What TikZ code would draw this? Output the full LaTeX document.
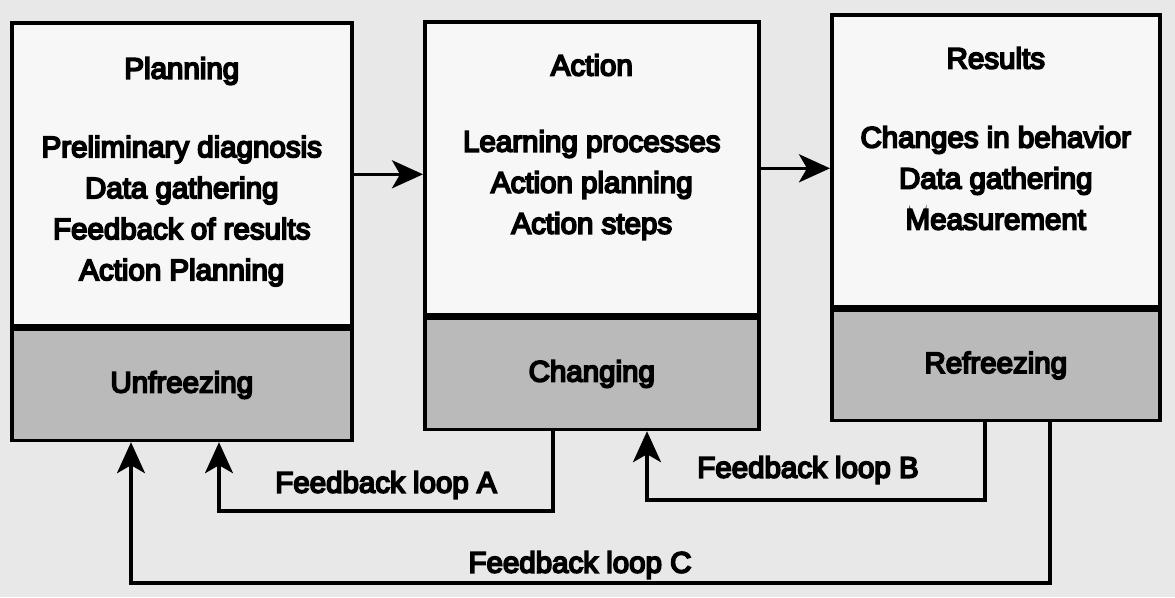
\documentclass[tikz,border=0pt]{standalone}
\usepackage{fontspec}
\setmainfont{Liberation Sans}[FakeBold=6]
\usetikzlibrary{arrows.meta,positioning}

\begin{document}
\begin{tikzpicture}[x=1pt,y=1pt,
    topbox/.style={draw,line width=3.6pt,fill=black!3,anchor=north west,inner sep=0pt},
    lowbox/.style={draw,line width=3.6pt,fill=black!27,anchor=north,inner sep=0pt},
    stage/.style={align=center},
    fbline/.style={line width=3.4pt,-{Stealth[length=31pt,width=28pt,inset=8pt]}}]

  \fill[black!9] (0,0) rectangle (1175,-597);
  \useasboundingbox (0,0) rectangle (1175,-597);

  \begin{scope}[font=\fontsize{29.5}{41}\selectfont,text=black]
    % planning / unfreezing
    \node[topbox,minimum width=340,minimum height=303] (plan) at (10,-21) {};
    \node[lowbox,minimum width=340,minimum height=111] (unfr) at (plan.south) {Unfreezing};
    \node (planT) at ([yshift=-50]plan.north) {Planning};
    \node[stage] (planL) at ([yshift=-190]plan.north) {Preliminary diagnosis\\Data gathering\\Feedback of results\\Action Planning};

    % action / changing
    \node[topbox,minimum width=334,minimum height=293] (acts) at (423,-20) {};
    \node[lowbox,minimum width=334,minimum height=111] (chng) at (acts.south) {Changing};
    \node (actsT) at ([yshift=-45]acts.north) {Action};
    \node[stage] (actsL) at ([yshift=-165]acts.north) {Learning processes\\Action planning\\Action steps};

    % results / refreezing
    \node[topbox,minimum width=328,minimum height=292] (res) at (830,-13) {};
    \node[lowbox,minimum width=328,minimum height=110] (refr) at (res.south) {Refreezing};
    \node (resT) at ([yshift=-45]res.north) {Results};
    \node[stage] (resL) at ([yshift=-165]res.north) {Changes in behavior\\Data gathering\\Measurement};

    \node (fbA) at (386,-485) {Feedback loop A};
    \node (fbB) at (808,-470) {Feedback loop B};
    \node (fbC) at (580,-565) {Feedback loop C};
  \end{scope}

  \draw[fbline] (plan.east) -- (plan.east -| acts.west);
  \draw[fbline] (acts.east) -- (acts.east -| res.west);

  \coordinate (aR) at (553,-511);
  \coordinate (aL) at (219,-511);
  \coordinate (bR) at (985,-500);
  \coordinate (bL) at (647,-500);
  \coordinate (cR) at (1050,-583);
  \coordinate (cL) at (131,-583);

  \draw[fbline] (chng.south -| aR) -- (aR) -- (aL) -- (unfr.south -| aL);
  \draw[fbline] (refr.south -| bR) -- (bR) -- (bL) -- (chng.south -| bL);
  \draw[fbline] (refr.south -| cR) -- (cR) -- (cL) -- (unfr.south -| cL);
\end{tikzpicture}
\end{document}
